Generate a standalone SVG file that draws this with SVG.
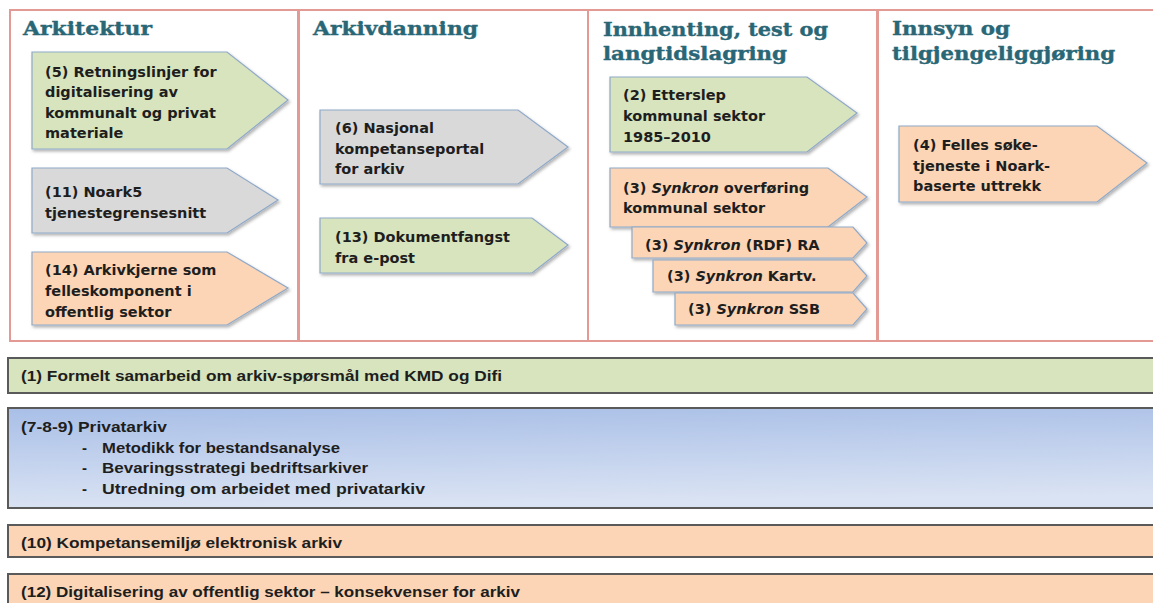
<svg xmlns="http://www.w3.org/2000/svg" width="1153" height="603" viewBox="0 0 1153 603">
<defs>
<linearGradient id="blueGrad" x1="0" y1="0" x2="0.15" y2="1">
<stop offset="0" stop-color="#A9BFE7"/>
<stop offset="1" stop-color="#DAE3F3"/>
</linearGradient>
<filter id="sh" x="-5%" y="-10%" width="115%" height="130%">
<feDropShadow dx="1.5" dy="2" stdDeviation="1.5" flood-color="#000" flood-opacity="0.3"/>
</filter>
<style>
.col{fill:#fff;stroke:#E49A94;stroke-width:2}
.title{font-family:"DejaVu Serif","Liberation Serif",serif;font-weight:bold;font-size:19px;fill:#2A6776;stroke:#2A6776;stroke-width:0.4}
.arr{stroke:#8FA9C9;stroke-width:1.2;filter:url(#sh)}
.green{fill:#D7E4BD}
.gray{fill:#D9D9D9}
.orange{fill:#FBD5B5}
.at{font-family:"DejaVu Sans","Liberation Sans",sans-serif;font-weight:bold;font-size:14.5px;fill:#1E1E1E}
.bar{stroke:#5A5A5A;stroke-width:2}
.bt{font-family:"Liberation Sans",Arial,sans-serif;font-weight:bold;font-size:15px;fill:#1E1E1E}
</style>
</defs>
<rect width="1153" height="603" fill="#fff"/>

<g id="col-arkitektur">
<rect class="col" x="10" y="10" width="288" height="331"/>
<text class="title" x="23" y="35" textLength="129" lengthAdjust="spacingAndGlyphs">Arkitektur</text>
</g>
<g id="col-arkivdanning">
<rect class="col" x="299" y="10" width="289" height="331"/>
<text class="title" x="313" y="35" textLength="165" lengthAdjust="spacingAndGlyphs">Arkivdanning</text>
</g>
<g id="col-innhenting">
<rect class="col" x="588" y="10" width="289" height="331"/>
<text class="title" x="603" y="36" textLength="225" lengthAdjust="spacingAndGlyphs">Innhenting, test og</text>
<text class="title" x="603" y="60" textLength="184" lengthAdjust="spacingAndGlyphs">langtidslagring</text>
</g>
<g id="col-innsyn">
<rect class="col" x="878" y="10" width="300" height="331"/>
<text class="title" x="892" y="35" textLength="118" lengthAdjust="spacingAndGlyphs">Innsyn og</text>
<text class="title" x="892" y="60" textLength="223" lengthAdjust="spacingAndGlyphs">tilgjengeliggjøring</text>
</g>

<g id="node-5">
<polygon class="arr green" points="32,52 227,52 288,100 227,149 32,149"/>
<text class="at" x="45" y="77">(5) Retningslinjer for</text>
<text class="at" x="45" y="97">digitalisering av</text>
<text class="at" x="45" y="118">kommunalt og privat</text>
<text class="at" x="45" y="138">materiale</text>
</g>
<g id="node-11">
<polygon class="arr gray" points="32,168 227,168 278,200 227,233 32,233"/>
<text class="at" x="45" y="197">(11) Noark5</text>
<text class="at" x="45" y="218">tjenestegrensesnitt</text>
</g>
<g id="node-14">
<polygon class="arr orange" points="32,252 227,252 288,288 227,325 32,325"/>
<text class="at" x="45" y="275">(14) Arkivkjerne som</text>
<text class="at" x="45" y="296">felleskomponent i</text>
<text class="at" x="45" y="317">offentlig sektor</text>
</g>

<g id="node-6">
<polygon class="arr gray" points="320,110 518,110 568,147 518,184 320,184"/>
<text class="at" x="335" y="133">(6) Nasjonal</text>
<text class="at" x="335" y="154">kompetanseportal</text>
<text class="at" x="335" y="174">for arkiv</text>
</g>
<g id="node-13">
<polygon class="arr green" points="320,218 532,218 568,245 532,273 320,273"/>
<text class="at" x="335" y="242">(13) Dokumentfangst</text>
<text class="at" x="335" y="263">fra e-post</text>
</g>

<g id="node-2">
<polygon class="arr green" points="610,77 807,77 857,113 807,152 610,152"/>
<text class="at" x="623" y="100">(2) Etterslep</text>
<text class="at" x="623" y="121">kommunal sektor</text>
<text class="at" x="623" y="142">1985–2010</text>
</g>
<g id="node-3">
<polygon class="arr orange" points="610,168 828,168 867,197 828,227 610,227"/>
<text class="at" x="623" y="193">(3) <tspan font-style="italic">Synkron</tspan> overføring</text>
<text class="at" x="623" y="213">kommunal sektor</text>
</g>
<g id="node-3-ra">
<polygon class="arr orange" points="632,227 853,227 867,243 853,258 632,258"/>
<text class="at" x="645" y="250">(3) <tspan font-style="italic">Synkron</tspan> (RDF) RA</text>
</g>
<g id="node-3-kartv">
<polygon class="arr orange" points="653,260 853,260 867,276 853,292 653,292"/>
<text class="at" x="667" y="281">(3) <tspan font-style="italic">Synkron</tspan> Kartv.</text>
</g>
<g id="node-3-ssb">
<polygon class="arr orange" points="675,293 853,293 867,309 853,325 675,325"/>
<text class="at" x="688" y="314">(3) <tspan font-style="italic">Synkron</tspan> SSB</text>
</g>

<g id="node-4">
<polygon class="arr orange" points="899,126 1097,126 1147,163 1097,202 899,202"/>
<text class="at" x="913" y="150">(4) Felles søke-</text>
<text class="at" x="913" y="171">tjeneste i Noark-</text>
<text class="at" x="913" y="191">baserte uttrekk</text>
</g>

<g id="bar-1">
<rect class="bar green" x="8" y="358" width="1160" height="35"/>
<text class="bt" x="21" y="381" textLength="481" lengthAdjust="spacingAndGlyphs">(1) Formelt samarbeid om arkiv-spørsmål med KMD og Difi</text>
</g>
<g id="bar-7-8-9">
<rect class="bar" x="8" y="408" width="1160" height="100" fill="url(#blueGrad)"/>
<text class="bt" x="21" y="432" textLength="146" lengthAdjust="spacingAndGlyphs">(7-8-9) Privatarkiv</text>
<text class="bt" x="82" y="453">-</text>
<text class="bt" x="102" y="453" textLength="238" lengthAdjust="spacingAndGlyphs">Metodikk for bestandsanalyse</text>
<text class="bt" x="82" y="473">-</text>
<text class="bt" x="102" y="473" textLength="266" lengthAdjust="spacingAndGlyphs">Bevaringsstrategi bedriftsarkiver</text>
<text class="bt" x="82" y="494">-</text>
<text class="bt" x="102" y="494" textLength="323" lengthAdjust="spacingAndGlyphs">Utredning om arbeidet med privatarkiv</text>
</g>
<g id="bar-10">
<rect class="bar orange" x="8" y="525" width="1160" height="32"/>
<text class="bt" x="21" y="548" textLength="321" lengthAdjust="spacingAndGlyphs">(10) Kompetansemiljø elektronisk arkiv</text>
</g>
<g id="bar-12">
<rect class="bar orange" x="8" y="574" width="1160" height="40"/>
<text class="bt" x="21" y="597" textLength="499" lengthAdjust="spacingAndGlyphs">(12) Digitalisering av offentlig sektor – konsekvenser for arkiv</text>
</g>
</svg>
